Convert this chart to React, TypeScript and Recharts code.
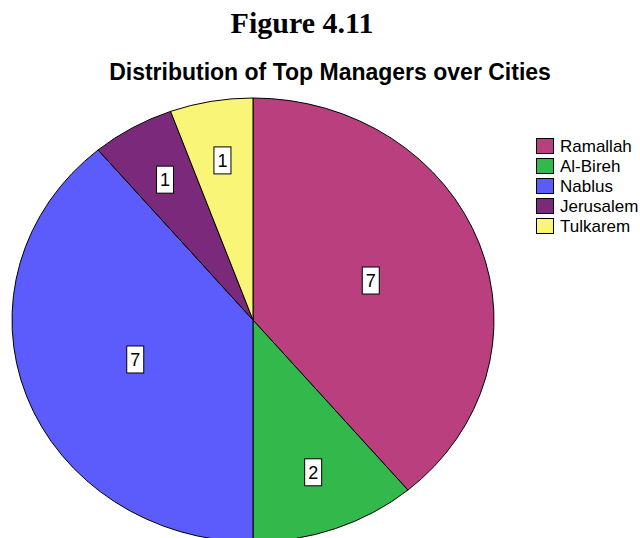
import React from 'react';
import { PieChart, Pie, Cell, Legend } from 'recharts';

const cities = ['Ramallah', 'Al-Bireh', 'Nablus', 'Jerusalem', 'Tulkarem'];
const counts = [7, 2, 7, 1, 1];
const colors = ['#BA3F7E', '#33B84C', '#5C5CFC', '#7B2A7B', '#F9F577'];

const data = cities.map((name, i) => ({ name, value: counts[i] }));

const CX = 253;
const CY = 320;
const RX = 241;
const RY = 222;
const RAD = Math.PI / 180;

function renderLabel(props: any) {
  const { cx, cy, midAngle, percent, value, outerRadius } = props;
  const f = percent > 0.3 ? 0.52 : 0.73;
  const rx = outerRadius;
  const ry = (outerRadius * RY) / RX;
  const x = cx + f * rx * Math.cos(-midAngle * RAD);
  const y = cy + f * ry * Math.sin(-midAngle * RAD);
  return (
    <g>
      <rect x={x - 8.5} y={y - 13.5} width={17} height={27} fill="#fff" stroke="#000" strokeWidth={1} />
      <text x={x} y={y + 6.5} textAnchor="middle" fontFamily="Arial, 'Liberation Sans', sans-serif" fontSize={18} fill="#000">
        {value}
      </text>
    </g>
  );
}

function renderLegend() {
  return (
    <div style={{ fontFamily: "Arial, 'Liberation Sans', sans-serif", fontSize: 17, color: '#000' }}>
      {cities.map((name, i) => (
        <div key={name} style={{ display: 'flex', alignItems: 'flex-start', height: 20, lineHeight: '20px' }}>
          <div
            style={{
              width: 18,
              height: 16,
              marginTop: 1,
              boxSizing: 'border-box',
              border: '1px solid #000',
              background: colors[i],
              marginRight: 6,
            }}
          />
          <span>{name}</span>
        </div>
      ))}
    </div>
  );
}

export default function App() {
  return (
    <div style={{ width: 640, height: 538, position: 'relative', background: '#fff' }}>
      <style>{`
        body { margin: 0; }
        .recharts-pie .recharts-sector {
          transform-box: view-box;
          transform-origin: ${CX}px ${CY}px;
          transform: scaleY(${RY / RX});
          vector-effect: non-scaling-stroke;
        }
      `}</style>
      <PieChart width={640} height={538} margin={{ top: 0, right: 0, bottom: 0, left: 0 }}>
        <text x={302} y={33} textAnchor="middle" fontFamily="'Times New Roman', 'Liberation Serif', serif" fontWeight="bold" fontSize={30} fill="#000">
          Figure 4.11
        </text>
        <text x={330} y={80} textAnchor="middle" fontFamily="Arial, 'Liberation Sans', sans-serif" fontWeight="bold" fontSize={23} fill="#000">
          Distribution of Top Managers over Cities
        </text>
        <Pie
          data={data}
          dataKey="value"
          nameKey="name"
          cx={CX}
          cy={CY}
          outerRadius={RX}
          startAngle={90}
          endAngle={-270}
          stroke="#000"
          strokeWidth={1}
          label={renderLabel}
          labelLine={false}
          isAnimationActive={false}
        >
          {data.map((d, i) => (
            <Cell key={d.name} fill={colors[i]} />
          ))}
        </Pie>
        <Legend
          layout="vertical"
          align="right"
          verticalAlign="top"
          content={renderLegend}
          wrapperStyle={{ position: 'absolute', left: 536, top: 137, width: 104 }}
        />
      </PieChart>
    </div>
  );
}
